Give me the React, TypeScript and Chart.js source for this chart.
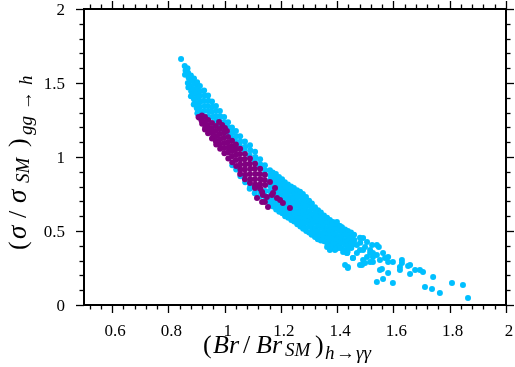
import React, { useEffect, useRef } from 'react';
import { Chart, registerables } from 'chart.js';

Chart.register(...registerables);

// ---- axis ranges and ticks ----
const X_MIN = 0.5;
const X_MAX = 2;
const Y_MIN = 0;
const Y_MAX = 2;
const X_MAJOR = [0.6, 0.8, 1, 1.2, 1.4, 1.6, 1.8, 2];
const X_TICK_LABELS = ['0.6', '0.8', '1', '1.2', '1.4', '1.6', '1.8', '2'];
const Y_MAJOR = [0, 0.5, 1, 1.5, 2];
const Y_TICK_LABELS = ['0', '0.5', '1', '1.5', '2'];
const X_MINOR_STEP = 0.04;
const Y_MINOR_STEP = 0.1;

const CYAN_COLOR = '#00BFFF';
const PURPLE_COLOR = '#800080';

// ---- data: (Br/Br_SM, sigma/sigma_SM) ----
const CYAN: [number, number][] = [
  [0.845, 1.662],
  [0.858, 1.615], [0.861, 1.585], [0.859, 1.555],
  [0.868, 1.6], [0.870, 1.57], [0.872, 1.535], [0.869, 1.5], [0.871, 1.47],
  [0.880, 1.55], [0.882, 1.515], [0.879, 1.48], [0.881, 1.445], [0.880, 1.41],
  [0.891, 1.53], [0.892, 1.495], [0.890, 1.46], [0.893, 1.425], [0.891, 1.39], [0.890, 1.355],
  [0.902, 1.505], [0.903, 1.47], [0.901, 1.435], [0.903, 1.4], [0.902, 1.365], [0.901, 1.33], [0.903, 1.295],
  [0.912, 1.48], [0.913, 1.445], [0.911, 1.41], [0.914, 1.375], [0.912, 1.34], [0.913, 1.305], [0.911, 1.27],
  [0.927, 1.45], [0.928, 1.415], [0.926, 1.38], [0.929, 1.345], [0.927, 1.31],
  [0.941, 1.415], [0.942, 1.38], [0.940, 1.345], [0.943, 1.31], [0.941, 1.275],
  [0.955, 1.375], [0.956, 1.34], [0.954, 1.305], [0.957, 1.27],
  [0.969, 1.345], [0.970, 1.31], [0.968, 1.275], [0.970, 1.245],
  [0.983, 1.31], [0.984, 1.275], [0.982, 1.24], [0.984, 1.215],
  [0.998, 1.27], [0.999, 1.235], [0.997, 1.2], [0.999, 1.175],
  [1.012, 1.235], [1.013, 1.2], [1.011, 1.165], [1.013, 1.145],
  [1.026, 1.2], [1.027, 1.165], [1.025, 1.13], [1.027, 0.945],
  [1.040, 1.175], [1.041, 1.14], [1.039, 1.105], [1.041, 0.915],
  [1.055, 1.14], [1.056, 1.105], [1.054, 1.075], [1.056, 0.87],
  [1.072, 1.105], [1.073, 1.07], [1.071, 1.04], [1.073, 0.83],
  [1.090, 1.08], [1.091, 1.045], [1.089, 1.01], [1.091, 0.8], [1.089, 0.785],
  [1.108, 1.035], [1.109, 1.0], [1.107, 0.97], [1.109, 0.78], [1.107, 0.755],
  [1.126, 0.985], [1.127, 0.95], [1.125, 0.93], [1.127, 0.765], [1.125, 0.735],
  [1.143, 0.945], [1.144, 0.91], [1.142, 0.885], [1.144, 0.77], [1.142, 0.74], [1.144, 0.71],
  [1.161, 0.91], [1.162, 0.875], [1.160, 0.84], [1.162, 0.805], [1.160, 0.77], [1.162, 0.735], [1.160, 0.7], [1.162, 0.68],
  [1.171, 0.895], [1.172, 0.86], [1.171, 0.825], [1.172, 0.79], [1.171, 0.755], [1.172, 0.72], [1.171, 0.69], [1.172, 0.665],
  [1.182, 0.885], [1.183, 0.85], [1.181, 0.815], [1.183, 0.78], [1.181, 0.745], [1.183, 0.71], [1.181, 0.675], [1.183, 0.645],
  [1.193, 0.865], [1.194, 0.83], [1.193, 0.795], [1.194, 0.76], [1.193, 0.725], [1.194, 0.69], [1.193, 0.655], [1.194, 0.63],
  [1.204, 0.85], [1.205, 0.815], [1.203, 0.78], [1.205, 0.745], [1.203, 0.71], [1.205, 0.675], [1.203, 0.645], [1.205, 0.62],
  [1.214, 0.83], [1.215, 0.795], [1.214, 0.76], [1.215, 0.725], [1.214, 0.69], [1.215, 0.655], [1.214, 0.625], [1.215, 0.6],
  [1.225, 0.815], [1.226, 0.78], [1.224, 0.745], [1.226, 0.71], [1.224, 0.675], [1.226, 0.64], [1.224, 0.61], [1.226, 0.59],
  [1.236, 0.8], [1.237, 0.765], [1.236, 0.73], [1.237, 0.695], [1.236, 0.66], [1.237, 0.625], [1.236, 0.595], [1.237, 0.575],
  [1.246, 0.79], [1.247, 0.755], [1.245, 0.72], [1.247, 0.685], [1.245, 0.65], [1.247, 0.615], [1.245, 0.585], [1.247, 0.565],
  [1.257, 0.775], [1.258, 0.74], [1.257, 0.705], [1.258, 0.67], [1.257, 0.635], [1.258, 0.6], [1.257, 0.565], [1.258, 0.545],
  [1.268, 0.765], [1.269, 0.73], [1.267, 0.695], [1.269, 0.66], [1.267, 0.625], [1.269, 0.59], [1.267, 0.555], [1.269, 0.53],
  [1.278, 0.75], [1.279, 0.715], [1.278, 0.68], [1.279, 0.645], [1.278, 0.61], [1.279, 0.575], [1.278, 0.54], [1.279, 0.515],
  [1.289, 0.73], [1.290, 0.695], [1.288, 0.66], [1.290, 0.625], [1.288, 0.59], [1.290, 0.555], [1.288, 0.52], [1.290, 0.5],
  [1.300, 0.705], [1.301, 0.67], [1.300, 0.635], [1.301, 0.6], [1.300, 0.565], [1.301, 0.53], [1.300, 0.49],
  [1.310, 0.685], [1.311, 0.65], [1.309, 0.615], [1.311, 0.58], [1.309, 0.545], [1.311, 0.51], [1.309, 0.475],
  [1.321, 0.66], [1.322, 0.625], [1.321, 0.59], [1.322, 0.555], [1.321, 0.52], [1.322, 0.485], [1.321, 0.46],
  [1.332, 0.64], [1.333, 0.605], [1.331, 0.57], [1.333, 0.535], [1.331, 0.5], [1.333, 0.465], [1.331, 0.445],
  [1.342, 0.625], [1.343, 0.59], [1.342, 0.555], [1.343, 0.52], [1.342, 0.485], [1.343, 0.45], [1.342, 0.435],
  [1.353, 0.605], [1.354, 0.57], [1.352, 0.535], [1.354, 0.5], [1.352, 0.465], [1.354, 0.43],
  [1.364, 0.59], [1.365, 0.555], [1.364, 0.52], [1.365, 0.485], [1.364, 0.45], [1.365, 0.415],
  [1.374, 0.575], [1.375, 0.54], [1.373, 0.505], [1.375, 0.47], [1.373, 0.435], [1.375, 0.4],
  [1.385, 0.56], [1.386, 0.525], [1.385, 0.49], [1.386, 0.455], [1.385, 0.42], [1.386, 0.39],
  [1.396, 0.55], [1.397, 0.515], [1.395, 0.48], [1.397, 0.445], [1.395, 0.41], [1.397, 0.38],
  [1.406, 0.535], [1.407, 0.5], [1.406, 0.465], [1.407, 0.43], [1.406, 0.395],
  [1.417, 0.525], [1.418, 0.49], [1.416, 0.455], [1.418, 0.42], [1.416, 0.385],
  [1.428, 0.51], [1.429, 0.475], [1.428, 0.44], [1.429, 0.405], [1.428, 0.37],
  [1.438, 0.5], [1.439, 0.465], [1.437, 0.43], [1.439, 0.395], [1.437, 0.36],
  [1.449, 0.49], [1.450, 0.455], [1.449, 0.42], [1.450, 0.385],
  [1.460, 0.475], [1.461, 0.44], [1.459, 0.41],
  [1.481, 0.455], [1.482, 0.42],
  // scattered tail
  [1.382, 0.554], [1.399, 0.561], [1.410, 0.534], [1.392, 0.372], [1.421, 0.358], [1.435, 0.351],
  [1.428, 0.27], [1.438, 0.25], [1.456, 0.318], [1.470, 0.405], [1.481, 0.372], [1.481, 0.27],
  [1.492, 0.304], [1.499, 0.392], [1.517, 0.351], [1.517, 0.291], [1.527, 0.324], [1.541, 0.405],
  [1.548, 0.392], [1.541, 0.155], [1.563, 0.176], [1.598, 0.149], [1.581, 0.216], [1.559, 0.243],
  [1.563, 0.351], [1.581, 0.324], [1.598, 0.291], [1.630, 0.304], [1.630, 0.284], [1.623, 0.236],
  [1.652, 0.264], [1.659, 0.209], [1.677, 0.236], [1.694, 0.236], [1.705, 0.223], [1.741, 0.189],
  [1.712, 0.122], [1.737, 0.108], [1.765, 0.081], [1.808, 0.149], [1.847, 0.135], [1.865, 0.047],
  [1.492, 0.453], [1.506, 0.426], [1.524, 0.405], [1.492, 0.372], [1.517, 0.372], [1.527, 0.351],
  [1.541, 0.338], [1.506, 0.324], [1.552, 0.304], [1.570, 0.318], [1.581, 0.291], [1.499, 0.284],
  [1.527, 0.291], [1.488, 0.27], [1.552, 0.236], [1.623, 0.257], [1.659, 0.27],
  [1.364, 0.392], [1.374, 0.372], [1.410, 0.385], [1.435, 0.351], [1.456, 0.318], [1.470, 0.351], [1.438, 0.257],
];

const PURPLE: [number, number][] = [
  [0.907, 1.27], [0.910, 1.265],
  [0.919, 1.28], [0.918, 1.245], [0.920, 1.225],
  [0.930, 1.27], [0.929, 1.235], [0.931, 1.2], [0.930, 1.185],
  [0.941, 1.25], [0.940, 1.215], [0.942, 1.18], [0.941, 1.16],
  [0.955, 1.23], [0.954, 1.195], [0.956, 1.16], [0.955, 1.125],
  [0.969, 1.21], [0.968, 1.175], [0.970, 1.14], [0.969, 1.105], [0.970, 1.085],
  [0.983, 1.19], [0.982, 1.155], [0.984, 1.12], [0.983, 1.085], [0.984, 1.055],
  [0.998, 1.165], [0.997, 1.13], [0.999, 1.095], [0.998, 1.06], [0.999, 1.025],
  [1.012, 1.135], [1.011, 1.1], [1.013, 1.065], [1.012, 1.03], [1.013, 0.99],
  [1.026, 1.11], [1.025, 1.075], [1.027, 1.04], [1.026, 1.005], [1.027, 0.965],
  [1.040, 1.085], [1.039, 1.05], [1.041, 1.015], [1.040, 0.98], [1.041, 0.94],
  [1.055, 1.055], [1.054, 1.02], [1.056, 0.985], [1.055, 0.95], [1.056, 0.915], [1.055, 0.885],
  [1.072, 1.02], [1.071, 0.985], [1.073, 0.95], [1.072, 0.915], [1.073, 0.88], [1.072, 0.85],
  [1.090, 0.99], [1.089, 0.955], [1.091, 0.92], [1.090, 0.885], [1.091, 0.85], [1.090, 0.825],
  [1.108, 0.955], [1.107, 0.92], [1.109, 0.885], [1.108, 0.85], [1.109, 0.815], [1.108, 0.8],
  [1.126, 0.92], [1.125, 0.885], [1.127, 0.85], [1.126, 0.815], [1.127, 0.785],
  [1.143, 0.88], [1.142, 0.845], [1.144, 0.81],
  // finger
  [0.980, 1.236], [0.991, 1.216], [1.001, 1.196], [1.008, 1.176],
  // scatter
  [1.108, 0.791], [1.115, 0.723], [1.133, 0.764], [1.136, 0.743], [1.143, 0.696], [1.154, 0.662],
  [1.168, 0.743], [1.179, 0.791], [1.186, 0.723], [1.197, 0.709], [1.207, 0.689], [1.232, 0.655],
  [1.133, 0.696], [1.150, 0.730], [1.161, 0.831], [1.172, 0.757],
];

// Axis titles: pieces placed at offsets (px) along the reading direction
type Piece = { t: string; italic: boolean; size: number; dy: number; at: number };

const X_TITLE: Piece[] = [
  { t: '(', italic: false, size: 26, dy: 0, at: 0 },
  { t: 'Br', italic: true, size: 26, dy: 0, at: 10 },
  { t: '/', italic: false, size: 26, dy: 0, at: 40 },
  { t: 'Br', italic: true, size: 26, dy: 0, at: 53 },
  { t: 'SM', italic: true, size: 19, dy: 3, at: 82 },
  { t: ')', italic: false, size: 26, dy: 0, at: 112 },
  { t: 'h', italic: true, size: 19, dy: 6, at: 122 },
  { t: '→', italic: false, size: 19, dy: 6, at: 133 },
  { t: 'γγ', italic: true, size: 19, dy: 6, at: 153 },
];
const X_TITLE_START = 203;
const X_TITLE_BASE = 353;

const Y_TITLE: Piece[] = [
  { t: '(', italic: false, size: 26, dy: 0, at: 0 },
  { t: 'σ', italic: true, size: 27, dy: 0, at: 11 },
  { t: '/', italic: false, size: 26, dy: 0, at: 32 },
  { t: 'σ', italic: true, size: 27, dy: 0, at: 47 },
  { t: 'SM', italic: true, size: 19, dy: 3, at: 67 },
  { t: ')', italic: false, size: 26, dy: 0, at: 103 },
  { t: 'gg', italic: true, size: 19, dy: 6, at: 115 },
  { t: '→', italic: false, size: 19, dy: 6, at: 140 },
  { t: 'h', italic: true, size: 19, dy: 6, at: 165 },
];
const Y_TITLE_START = 250; // screen y where the text starts (reads upward)
const Y_TITLE_BASE = 26; // screen x of the baseline

const SERIF = '"Liberation Serif", "DejaVu Serif", serif';
const TICK_FONT = `17px ${SERIF}`;

function drawPieces(ctx: CanvasRenderingContext2D, pieces: Piece[]) {
  ctx.textAlign = 'left';
  ctx.textBaseline = 'alphabetic';
  pieces.forEach((p) => {
    ctx.font = `${p.italic ? 'italic ' : ''}${p.size}px ${SERIF}`;
    ctx.fillText(p.t, p.at, p.dy);
  });
}

const isMultiple = (v: number, step: number) => Math.abs(v / step - Math.round(v / step)) < 1e-6;

const framePlugin = {
  id: 'frame',
  afterDraw(chart: any) {
    const { ctx, chartArea: a, scales } = chart;
    const xs = scales.x;
    const ys = scales.y;
    ctx.save();
    ctx.strokeStyle = '#000';
    ctx.lineWidth = 1.3;
    const line = (x1: number, y1: number, x2: number, y2: number) => {
      ctx.beginPath();
      ctx.moveTo(x1, y1);
      ctx.lineTo(x2, y2);
      ctx.stroke();
    };
    const MAJ = 8;
    const MIN = 4.5;
    for (let k = Math.ceil(X_MIN / X_MINOR_STEP - 1e-9); k * X_MINOR_STEP <= X_MAX + 1e-9; k++) {
      const v = k * X_MINOR_STEP;
      const len = isMultiple(v, 0.2) ? MAJ : MIN;
      const px = Math.round(xs.getPixelForValue(v)) + 0.5;
      line(px, a.bottom, px, a.bottom + len);
      line(px, a.top, px, a.top - len);
    }
    for (let k = Math.ceil(Y_MIN / Y_MINOR_STEP - 1e-9); k * Y_MINOR_STEP <= Y_MAX + 1e-9; k++) {
      const v = k * Y_MINOR_STEP;
      const len = isMultiple(v, 0.5) ? MAJ : MIN;
      const py = Math.round(ys.getPixelForValue(v)) + 0.5;
      line(a.left, py, a.left - len, py);
      line(a.right, py, a.right + len, py);
    }
    ctx.lineWidth = 2;
    ctx.strokeRect(a.left, a.top, a.right - a.left, a.bottom - a.top);

    // tick labels
    ctx.fillStyle = '#000';
    ctx.font = TICK_FONT;
    ctx.textBaseline = 'alphabetic';
    ctx.textAlign = 'center';
    X_MAJOR.forEach((v, i) => {
      ctx.fillText(X_TICK_LABELS[i], xs.getPixelForValue(v) + 3, a.bottom + 30.5);
    });
    ctx.textAlign = 'right';
    Y_MAJOR.forEach((v, i) => {
      ctx.fillText(Y_TICK_LABELS[i], a.left - 19, ys.getPixelForValue(v) + 6);
    });

    // axis titles
    ctx.save();
    ctx.translate(X_TITLE_START, X_TITLE_BASE);
    drawPieces(ctx, X_TITLE);
    ctx.restore();

    ctx.save();
    ctx.translate(Y_TITLE_BASE, Y_TITLE_START);
    ctx.rotate(-Math.PI / 2);
    drawPieces(ctx, Y_TITLE);
    ctx.restore();

    ctx.restore();
  },
};

export default function App() {
  const ref = useRef<HTMLCanvasElement>(null);
  useEffect(() => {
    const chart = new Chart(ref.current as HTMLCanvasElement, {
      type: 'scatter',
      data: {
        datasets: [
          {
            label: 'purple',
            data: PURPLE.map(([x, y]) => ({ x, y })),
            backgroundColor: PURPLE_COLOR,
            pointRadius: 3,
            borderWidth: 0,
          },
          {
            label: 'cyan',
            data: CYAN.map(([x, y]) => ({ x, y })),
            backgroundColor: CYAN_COLOR,
            pointRadius: 3,
            borderWidth: 0,
          },
        ],
      },
      options: {
        animation: false,
        responsive: false,
        devicePixelRatio: 1,
        layout: { padding: { top: 9, right: 9, left: 0, bottom: 0 } },
        plugins: { legend: { display: false }, tooltip: { enabled: false } },
        scales: {
          x: {
            type: 'linear',
            min: X_MIN,
            max: X_MAX,
            grid: { display: false, drawTicks: false },
            border: { display: false },
            ticks: { display: false },
            afterFit: (s: any) => {
              s.height = 62;
            },
          },
          y: {
            type: 'linear',
            min: Y_MIN,
            max: Y_MAX,
            grid: { display: false, drawTicks: false },
            border: { display: false },
            ticks: { display: false },
            afterFit: (s: any) => {
              s.width = 84;
            },
          },
        },
      },
      plugins: [framePlugin],
    });
    return () => chart.destroy();
  }, []);
  return (
    <div style={{ position: 'absolute', left: 0, top: 0, width: 515, height: 367, background: '#fff' }}>
      <canvas ref={ref} width={515} height={367} style={{ display: 'block' }} />
    </div>
  );
}
